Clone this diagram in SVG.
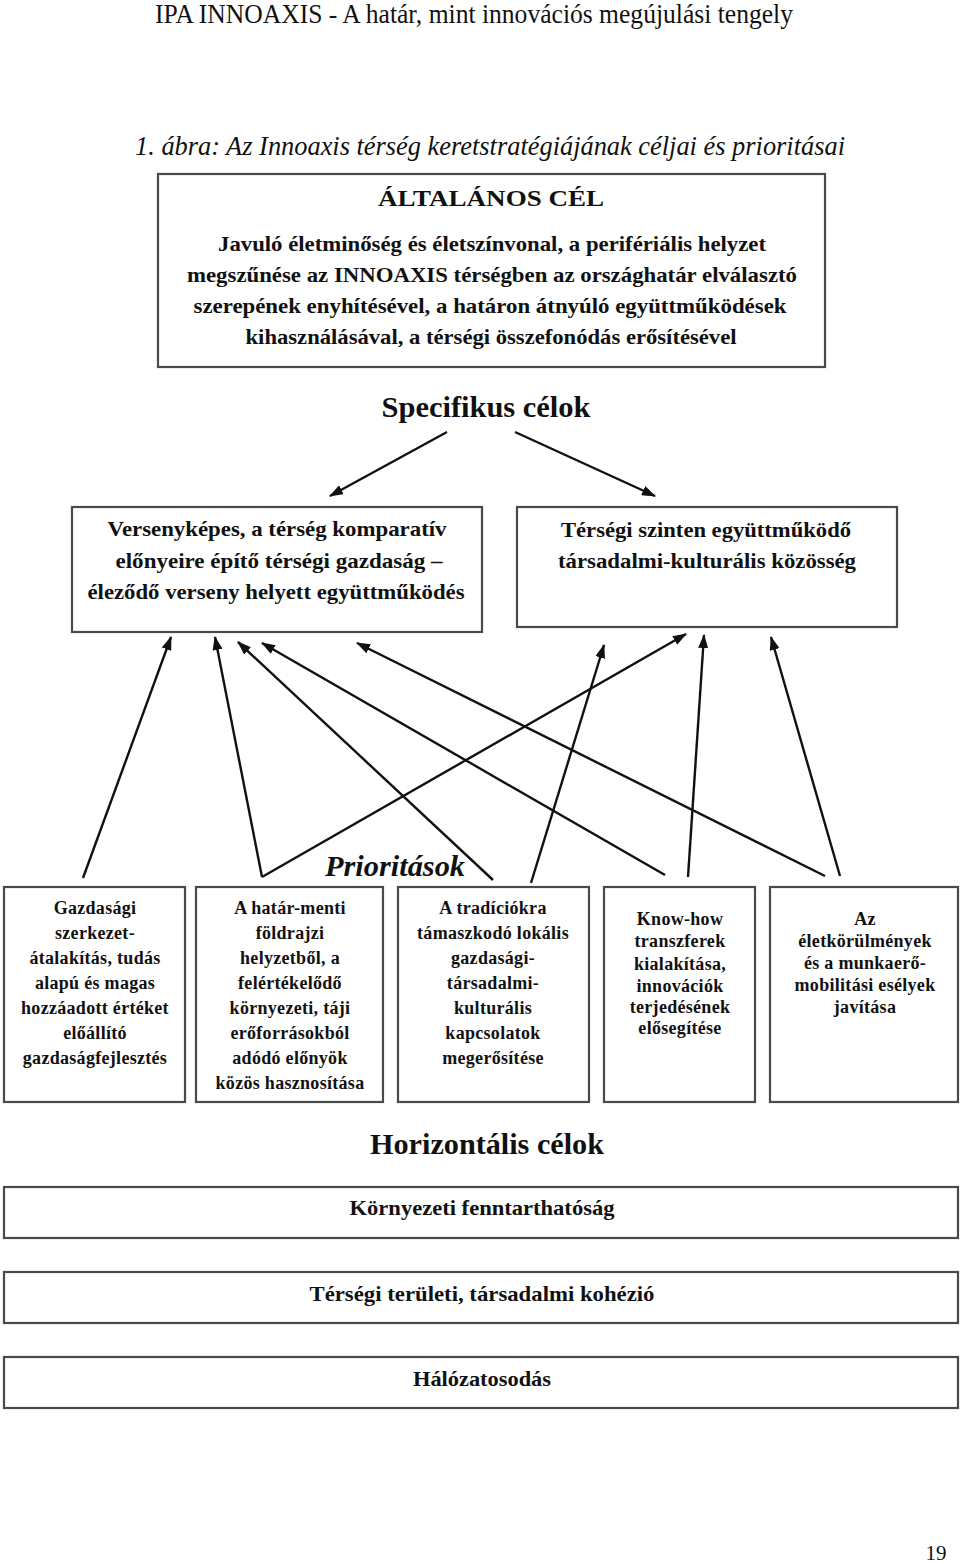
<svg xmlns="http://www.w3.org/2000/svg" width="960" height="1564" viewBox="0 0 960 1564">
<style>
.box{fill:#fff;stroke:#4a4a4a;stroke-width:2.2}
.t{font-family:"Liberation Serif","Times New Roman",serif;font-weight:bold;fill:#111;text-anchor:middle}
.p{font-size:18px;letter-spacing:0.3px}
.c{stroke:#111;stroke-width:2.4;fill:none;marker-end:url(#ah)}
</style>
<defs>
<marker id="ah" viewBox="0 0 14 10" refX="13" refY="5" markerWidth="14" markerHeight="10" markerUnits="userSpaceOnUse" orient="auto">
<path d="M0,0 L14,5 L0,10 Z" fill="#111"/>
</marker>
</defs>
<rect width="960" height="1564" fill="#fff"/>
<text x="474" y="23" font-family="Liberation Serif, serif" font-size="27" text-anchor="middle" textLength="638" lengthAdjust="spacingAndGlyphs" fill="#111">IPA INNOAXIS - A határ, mint innovációs megújulási tengely</text>
<text x="490" y="155" font-family="Liberation Serif, serif" font-size="28" font-style="italic" text-anchor="middle" textLength="710" lengthAdjust="spacingAndGlyphs" fill="#111">1. ábra: Az Innoaxis térség keretstratégiájának céljai és prioritásai</text>

<g id="altalanos">
<rect class="box" x="158" y="174" width="667" height="193"/>
<text class="t" x="491" y="206" font-size="24" textLength="226" lengthAdjust="spacingAndGlyphs">ÁLTALÁNOS CÉL</text>
<text class="t" x="492" y="251" font-size="21" textLength="548" lengthAdjust="spacingAndGlyphs">Javuló életminőség és életszínvonal, a perifériális helyzet</text>
<text class="t" x="492" y="282" font-size="21" textLength="610" lengthAdjust="spacingAndGlyphs">megszűnése az INNOAXIS térségben az országhatár elválasztó</text>
<text class="t" x="490" y="313" font-size="21" textLength="593" lengthAdjust="spacingAndGlyphs">szerepének enyhítésével, a határon átnyúló együttműködések</text>
<text class="t" x="491" y="344" font-size="21" textLength="491" lengthAdjust="spacingAndGlyphs">kihasználásával, a térségi összefonódás erősítésével</text>
</g>

<g id="specifikus-label">
<text class="t" x="486" y="417" font-size="30" textLength="209" lengthAdjust="spacingAndGlyphs">Specifikus célok</text>
</g>

<g id="spec1">
<rect class="box" x="72" y="507" width="410" height="125"/>
<text class="t" x="277" y="536" font-size="21" textLength="339" lengthAdjust="spacingAndGlyphs">Versenyképes, a térség komparatív</text>
<text class="t" x="279" y="568" font-size="21" textLength="327" lengthAdjust="spacingAndGlyphs">előnyeire építő térségi gazdaság –</text>
<text class="t" x="276" y="599" font-size="21" textLength="377" lengthAdjust="spacingAndGlyphs">éleződő verseny helyett együttműködés</text>
</g>

<g id="spec2">
<rect class="box" x="517" y="507" width="380" height="120"/>
<text class="t" x="706" y="537" font-size="21" textLength="290" lengthAdjust="spacingAndGlyphs">Térségi szinten együttműködő</text>
<text class="t" x="707" y="568" font-size="21" textLength="298" lengthAdjust="spacingAndGlyphs">társadalmi-kulturális közösség</text>
</g>

<g id="prioritasok-label">
<text class="t" x="395" y="876" font-size="30" font-style="italic" textLength="140" lengthAdjust="spacingAndGlyphs">Prioritások</text>
</g>

<g id="prio1">
<rect class="box" x="4" y="887" width="181" height="215"/>
<text class="t p" x="95" y="914">Gazdasági</text>
<text class="t p" x="95" y="939">szerkezet-</text>
<text class="t p" x="95" y="964">átalakítás, tudás</text>
<text class="t p" x="95" y="989">alapú és magas</text>
<text class="t p" x="95" y="1014">hozzáadott értéket</text>
<text class="t p" x="95" y="1039">előállító</text>
<text class="t p" x="95" y="1064">gazdaságfejlesztés</text>
</g>

<g id="prio2">
<rect class="box" x="196" y="887" width="187" height="215"/>
<text class="t p" x="290" y="914">A határ-menti</text>
<text class="t p" x="290" y="939">földrajzi</text>
<text class="t p" x="290" y="964">helyzetből, a</text>
<text class="t p" x="290" y="989">felértékelődő</text>
<text class="t p" x="290" y="1014">környezeti, táji</text>
<text class="t p" x="290" y="1039">erőforrásokból</text>
<text class="t p" x="290" y="1064">adódó előnyök</text>
<text class="t p" x="290" y="1089">közös hasznosítása</text>
</g>

<g id="prio3">
<rect class="box" x="398" y="887" width="191" height="215"/>
<text class="t p" x="493" y="914">A tradíciókra</text>
<text class="t p" x="493" y="939">támaszkodó lokális</text>
<text class="t p" x="493" y="964">gazdasági-</text>
<text class="t p" x="493" y="989">társadalmi-</text>
<text class="t p" x="493" y="1014">kulturális</text>
<text class="t p" x="493" y="1039">kapcsolatok</text>
<text class="t p" x="493" y="1064">megerősítése</text>
</g>

<g id="prio4">
<rect class="box" x="604" y="887" width="151" height="215"/>
<text class="t p" x="680" y="925">Know-how</text>
<text class="t p" x="680" y="947">transzferek</text>
<text class="t p" x="680" y="970">kialakítása,</text>
<text class="t p" x="680" y="992">innovációk</text>
<text class="t p" x="680" y="1013">terjedésének</text>
<text class="t p" x="680" y="1034">elősegítése</text>
</g>

<g id="prio5">
<rect class="box" x="770" y="887" width="188" height="215"/>
<text class="t p" x="865" y="925">Az</text>
<text class="t p" x="865" y="947">életkörülmények</text>
<text class="t p" x="865" y="969">és a munkaerő-</text>
<text class="t p" x="865" y="991">mobilitási esélyek</text>
<text class="t p" x="865" y="1013">javítása</text>
</g>

<g id="horizontalis-label">
<text class="t" x="487" y="1154" font-size="30" textLength="234" lengthAdjust="spacingAndGlyphs">Horizontális célok</text>
</g>

<g id="hor1">
<rect class="box" x="4" y="1187" width="954" height="51"/>
<text class="t" x="482" y="1215" font-size="21" textLength="265" lengthAdjust="spacingAndGlyphs">Környezeti fenntarthatóság</text>
</g>
<g id="hor2">
<rect class="box" x="4" y="1272" width="954" height="51"/>
<text class="t" x="482" y="1301" font-size="21" textLength="345" lengthAdjust="spacingAndGlyphs">Térségi területi, társadalmi kohézió</text>
</g>
<g id="hor3">
<rect class="box" x="4" y="1357" width="954" height="51"/>
<text class="t" x="482" y="1386" font-size="21" textLength="138" lengthAdjust="spacingAndGlyphs">Hálózatosodás</text>
</g>

<g id="connectors">
<line class="c" x1="447" y1="432" x2="330" y2="496"/>
<line class="c" x1="515" y1="432" x2="655" y2="496"/>
<line class="c" x1="83" y1="878" x2="171" y2="637"/>
<line class="c" x1="262" y1="877" x2="215" y2="637"/>
<line class="c" x1="262" y1="877" x2="686" y2="634"/>
<line class="c" x1="493" y1="880" x2="238" y2="642"/>
<line class="c" x1="531" y1="883" x2="604" y2="645"/>
<line class="c" x1="665" y1="875" x2="262" y2="643"/>
<line class="c" x1="688" y1="877" x2="704" y2="635"/>
<line class="c" x1="825" y1="876" x2="357" y2="643"/>
<line class="c" x1="840" y1="876" x2="771" y2="637"/>
</g>

<text x="936" y="1560" font-family="Liberation Serif, serif" font-size="21" text-anchor="middle" fill="#111">19</text>
</svg>
